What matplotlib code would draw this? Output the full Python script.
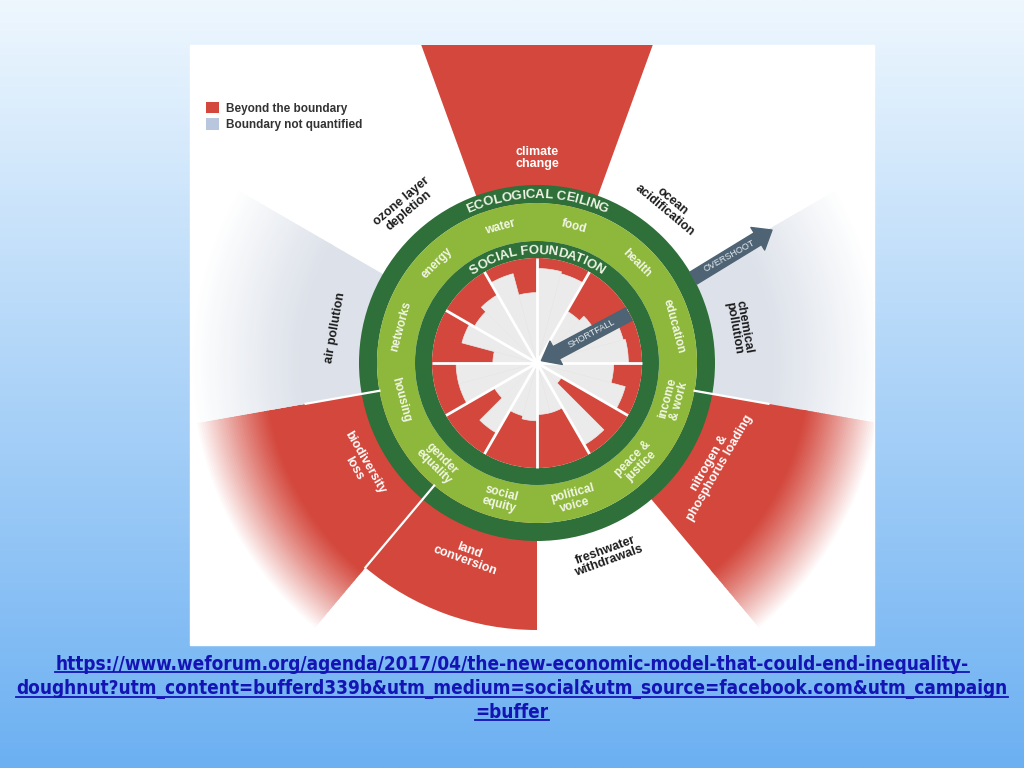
import numpy as np
import matplotlib.pyplot as plt
from matplotlib.patches import Rectangle, Patch
from matplotlib.lines import Line2D
from matplotlib.textpath import text_to_path
from matplotlib.font_manager import FontProperties
from matplotlib.colors import to_rgb

# social foundation, clockwise from the top (two indicators per dimension, share of the foundation met)
social_names = ["food", "health", "education", "income\n& work", "peace &\njustice",
                "political\nvoice", "social\nequity", "gender\nequality", "housing",
                "networks", "energy", "water"]
social_levels = [[0.90, 0.88], [0.57, 0.63], [0.85, 0.87], [0.73, 0.87], [0.27, 0.90],
                 [0.49, 0.49], [0.55, 0.52], [0.77, 0.47], [0.77, 0.77], [0.42, 0.74],
                 [0.69, 0.75], [0.88, 0.67]]

# ecological ceiling, clockwise from the top (extent as multiple of the ceiling)
eco_names = ["climate\nchange", "ocean\nacidification", "chemical\npollution",
             "nitrogen &\nphosphorus loading", "freshwater\nwithdrawals", "land\nconversion",
             "biodiversity\nloss", "air pollution", "ozone layer\ndepletion"]
eco_status = ["over", "ok", "nq", "over", "ok", "over", "over", "nq", "ok"]
eco_extent = [2.0, 1.0, 1.95, 1.95, 1.0, 1.5, 1.95, 1.95, 1.0]

legend_labels = ["Beyond the boundary", "Boundary not quantified"]
url_lines = ["https://www.weforum.org/agenda/2017/04/the-new-economic-model-that-could-end-inequality-",
             "doughnut?utm_content=bufferd339b&utm_medium=social&utm_source=facebook.com&utm_campaign",
             "=buffer"]

# style
RED = "#d3473c"
GREY = "#ebebeb"
DARK = "#2e6f3a"
LIGHT = "#8db83b"
NQ = "#dde2ea"
NQ_KEY = "#b9c7de"
ARROW = "#4e6373"
URL = "#1414b4"
fade_out = [False, False, True, True, False, False, True, True, False]
FONT = "Liberation Sans"

R_SOC, R_IN, R_LG, R_CEIL = 105, 122, 160, 178
CX, CY, RAX = 537, 363, 420
W, H = 1024, 768

fig = plt.figure(figsize=(10.24, 7.68), dpi=100)

# slide background and white panel
bg = fig.add_axes([0, 0, 1, 1], zorder=0)
grad = np.linspace(0, 1, 256)[:, None, None]
top, bot = np.array(to_rgb("#eef7fe")), np.array(to_rgb("#6cb0f2"))
bg.imshow(top + (bot - top) * grad, extent=[0, W, 0, H], aspect="auto")
bg.add_patch(Rectangle((190, H - 645), 684, 600, color="white"))
bg.set_xlim(0, W)
bg.set_ylim(0, H)
bg.axis("off")

ax = fig.add_axes([(CX - RAX) / W, (H - CY - RAX) / H, 2 * RAX / W, 2 * RAX / H],
                  projection="polar", zorder=1)
ax.set_ylim(0, RAX)
ax.set_axis_off()
clip = Rectangle((190 / W, (H - 645) / H), 684 / W, 600 / H, transform=fig.transFigure)


def clipped(artists):
    for a in artists:
        a.set_clip_path(clip)


def tangential(deg):
    d = (deg + 180) % 360 - 180
    return d - 90 if d > 0 else d + 90


# planetary boundaries
eco_deg = 90 - 40 * np.arange(len(eco_names))
ends = []
for deg, st, ext, fd in zip(eco_deg, eco_status, eco_extent, fade_out):
    r_end = ext * R_CEIL
    if st == "ok":
        ends.append(None)
        continue
    col = RED if st == "over" else NQ
    solid = (270 if st == "over" else 235) if fd else r_end
    ends.append(solid)
    th = np.deg2rad(deg)
    clipped(ax.bar(th, solid - R_LG + (4 if fd else 0), width=np.deg2rad(40), bottom=R_LG,
                   color=col, linewidth=0))
    if fd:
        n = 40
        edges = np.linspace(solid, r_end, n + 1)
        f = np.linspace(0, 1, n) ** 1.1
        cols = [tuple(np.array(to_rgb(col)) * (1 - v) + v) for v in f]
        clipped(ax.bar(np.full(n, th), np.diff(edges) * 1.6, width=np.deg2rad(40),
                       bottom=edges[:-1], color=cols, linewidth=0))

for i in range(len(eco_names)):
    j = (i + 1) % len(eco_names)
    if ends[i] is None or ends[j] is None:
        continue
    th = np.deg2rad(eco_deg[i] - 20)
    clipped(ax.plot([th, th], [R_LG, min(ends[i], ends[j])], color="white", lw=1.6))

# doughnut rings
full = 2 * np.pi
ax.bar(0, R_CEIL - R_LG, width=full, bottom=R_LG, color=DARK, linewidth=0)
ax.bar(0, R_LG - R_IN, width=full, bottom=R_IN, color=LIGHT, linewidth=0)
ax.bar(0, R_IN - R_SOC, width=full, bottom=R_SOC, color=DARK, linewidth=0)
ax.bar(0, R_SOC, width=full, bottom=0, color=RED, linewidth=0)

# social foundation achievements
for k, levels in enumerate(social_levels):
    for j, lv in enumerate(levels):
        deg = 90 - 30 * k - 7.5 - 15 * j
        ax.bar(np.deg2rad(deg), lv * R_SOC, width=np.deg2rad(15), bottom=0,
               color=GREY, edgecolor=GREY, linewidth=0.5)
for k in range(len(social_names)):
    th = np.deg2rad(90 - 30 * k)
    ax.plot([th, th], [0, R_SOC], color="white", lw=2, solid_capstyle="butt")

# labels
for k, name in enumerate(social_names):
    deg = 90 - 30 * k - 15
    ax.text(np.deg2rad(deg), 141, name, rotation=tangential(deg), rotation_mode="anchor",
            ha="center", va="center", multialignment="center", fontsize=8.5,
            fontweight="bold", family=FONT, color="#f2f6e6", linespacing=0.95)

for deg, name, st in zip(eco_deg, eco_names, eco_status):
    ax.text(np.deg2rad(deg), 205, name, rotation=tangential(deg), rotation_mode="anchor",
            ha="center", va="center", multialignment="center", fontsize=9,
            fontweight="bold", family=FONT, linespacing=0.95,
            color="white" if st == "over" else "#1c1c1c")


def arc_text(s, r, mid, size, color):
    fp = FontProperties(family=FONT, weight="bold", size=size)
    ink = [0.0] + [text_to_path.get_text_width_height_descent(s[:i + 1], fp, False)[0]
                   for i in range(len(s))]
    total = ink[-1] * 100 / 72
    for i, ch in enumerate(s):
        if ch == " ":
            continue
        cw = text_to_path.get_text_width_height_descent(ch, fp, False)[0]
        c = (ink[i + 1] - cw / 2) * 100 / 72
        deg = mid + np.rad2deg((total / 2 - c) / r)
        ax.text(np.deg2rad(deg), r, ch, rotation=deg - 90, rotation_mode="anchor",
                ha="center", va="center", fontproperties=fp, color=color)


arc_text("ECOLOGICAL CEILING", 168, 90, 9.5, "#eef3e4")
arc_text("SOCIAL FOUNDATION", 112, 90, 9.5, "#eef3e4")

# overshoot / shortfall arrows
style = "simple,head_length=0.6,head_width=0.95,tail_width=0.5"
ax.annotate("", xy=(np.deg2rad(29.5), 270), xytext=(np.deg2rad(28.5), 178),
            arrowprops=dict(arrowstyle=style, mutation_scale=20, color=ARROW,
                            shrinkA=0, shrinkB=0))
ax.text(np.deg2rad(29), 220, "OVERSHOOT", rotation=29, rotation_mode="anchor",
        ha="center", va="center", fontsize=6.5, family=FONT, color="#e3eaf0")
ax.annotate("", xy=(np.deg2rad(28), 5), xytext=(np.deg2rad(28), 104),
            arrowprops=dict(arrowstyle=style, mutation_scale=20, color=ARROW,
                            shrinkA=0, shrinkB=0))
ax.text(np.deg2rad(28), 62, "SHORTFALL", rotation=28, rotation_mode="anchor",
        ha="center", va="center", fontsize=6.5, family=FONT, color="#e3eaf0")

# legend
fig.legend([Patch(facecolor=RED), Patch(facecolor=NQ_KEY)], legend_labels,
           loc="upper left", bbox_to_anchor=(206 / W, 1 - 102 / H), frameon=False,
           borderpad=0, borderaxespad=0, handlelength=1.1, handleheight=1.1,
           handletextpad=0.6, labelspacing=0.3, labelcolor="#333333",
           prop=FontProperties(family=FONT, weight="bold", size=8.5))

# source link, underlined; font size fitted to the width of the middle line
url_font = dict(ha="center", va="center", fontweight="bold", color=URL,
                family=["DejaVu Sans"], fontstretch="condensed")
texts = [fig.text(0.5, 1 - y / H, line, fontsize=15, **url_font)
         for y, line in zip([665, 689, 713], url_lines)]
fig.canvas.draw()
scale = 988 / texts[1].get_window_extent().width
for t in texts:
    t.set_fontsize(15 * scale)
fig.canvas.draw()
for t in texts:
    bb = t.get_window_extent().transformed(fig.transFigure.inverted())
    yy = bb.y0 + 0.12 * bb.height
    fig.add_artist(Line2D([bb.x0, bb.x1], [yy, yy], color=URL, lw=1.3,
                          transform=fig.transFigure))

fig.savefig("out.png", dpi=100)
